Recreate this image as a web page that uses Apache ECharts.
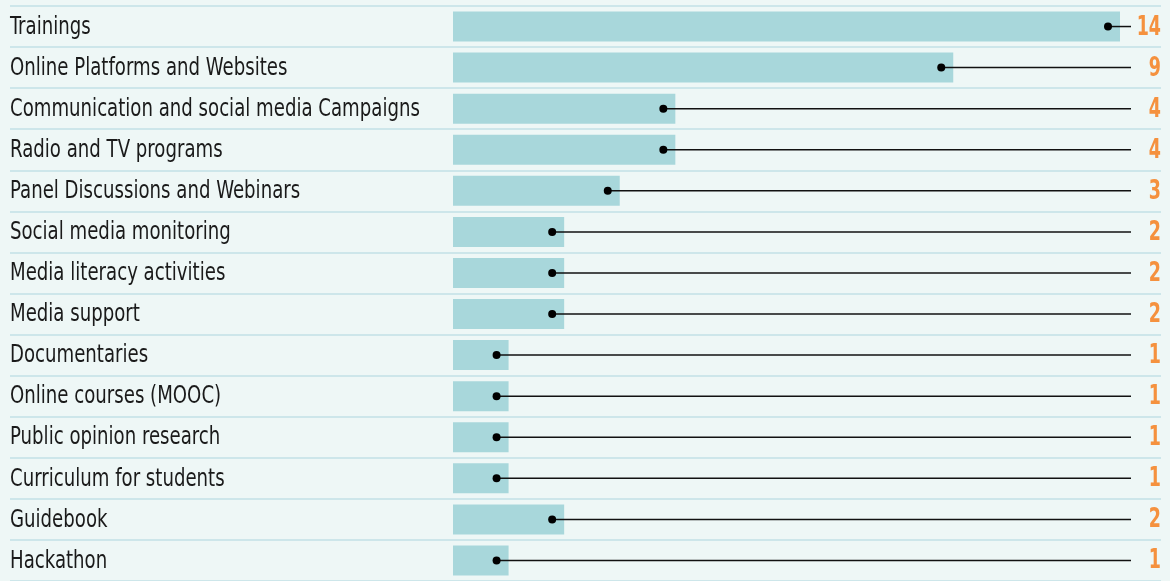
<!DOCTYPE html>
<html><head><meta charset="utf-8">
<script src="https://cdn.jsdelivr.net/npm/echarts@6/dist/echarts.min.js"></script>
<style>html,body{margin:0;padding:0;background:#eef7f6;}#c{width:1170px;height:581px;}</style>
</head><body><div id="c"></div>
<script>
const categories = ["Trainings","Online Platforms and Websites","Communication and social media Campaigns","Radio and TV programs","Panel Discussions and Webinars","Social media monitoring","Media literacy activities","Media support","Documentaries","Online courses (MOOC)","Public opinion research","Curriculum for students","Guidebook","Hackathon"];
const values = [14,9,4,4,3,2,2,2,1,1,1,1,2,1];
const axisMax = 12;

const FONT = "'DejaVu Sans Condensed',sans-serif";
const chart = echarts.init(document.getElementById('c'));
chart.setOption({
  backgroundColor: '#eef7f6',
  animation: false,
  grid: [
    {left: 10, right: 9, top: 6, bottom: 0},
    {left: 453, right: 50, top: 6, bottom: 0}
  ],
  xAxis: [
    {gridIndex: 0, type: 'value', show: false, min: 0, max: 1},
    {gridIndex: 1, type: 'value', show: false, min: 0, max: axisMax}
  ],
  yAxis: [
    {gridIndex: 0, type: 'category', data: categories, inverse: true,
     axisLine: {show: false}, axisTick: {show: false}, axisLabel: {show: false},
     splitLine: {show: true, lineStyle: {color: '#cde6ea', width: 2}}},
    {gridIndex: 1, type: 'category', data: categories, inverse: true,
     axisLine: {show: false}, axisTick: {show: false}, splitLine: {show: false},
     axisLabel: {show: false}}
  ],
  series: [
    {type: 'bar', xAxisIndex: 1, yAxisIndex: 1, data: values, barWidth: 30,
     itemStyle: {color: '#a8d7db'}, clip: true, silent: true, z: 2},
    {type: 'custom', xAxisIndex: 1, yAxisIndex: 1, z: 10, clip: false,
     data: values.map((v, i) => [v, i]),
     renderItem: function (params, api) {
       const v = api.value(0), i = api.value(1);
       const p = api.coord([Math.min(v, axisMax), i]);
       const W = api.getWidth();
       const dx = p[0] - 12, y = p[1];
       return {type: 'group', children: [
         {type: 'line', shape: {x1: dx, y1: y, x2: W - 39, y2: y}, style: {stroke: '#111', lineWidth: 1.5}},
         {type: 'circle', shape: {cx: dx, cy: y, r: 4}, style: {fill: '#000'}},
         {type: 'text', x: 10, y: y + 1, scaleX: 0.84, style: {text: categories[i], align: 'left', verticalAlign: 'middle',
           fill: '#1a1a1a', fontSize: 24, fontFamily: FONT}},
         {type: 'text', x: W - 9, y: y + 1, scaleX: 0.72, style: {text: String(v), align: 'right', verticalAlign: 'middle',
           fill: '#f5913e', fontSize: 27, fontWeight: 'bold', fontFamily: FONT}}
       ]};
     }}
  ]
});
</script></body></html>
